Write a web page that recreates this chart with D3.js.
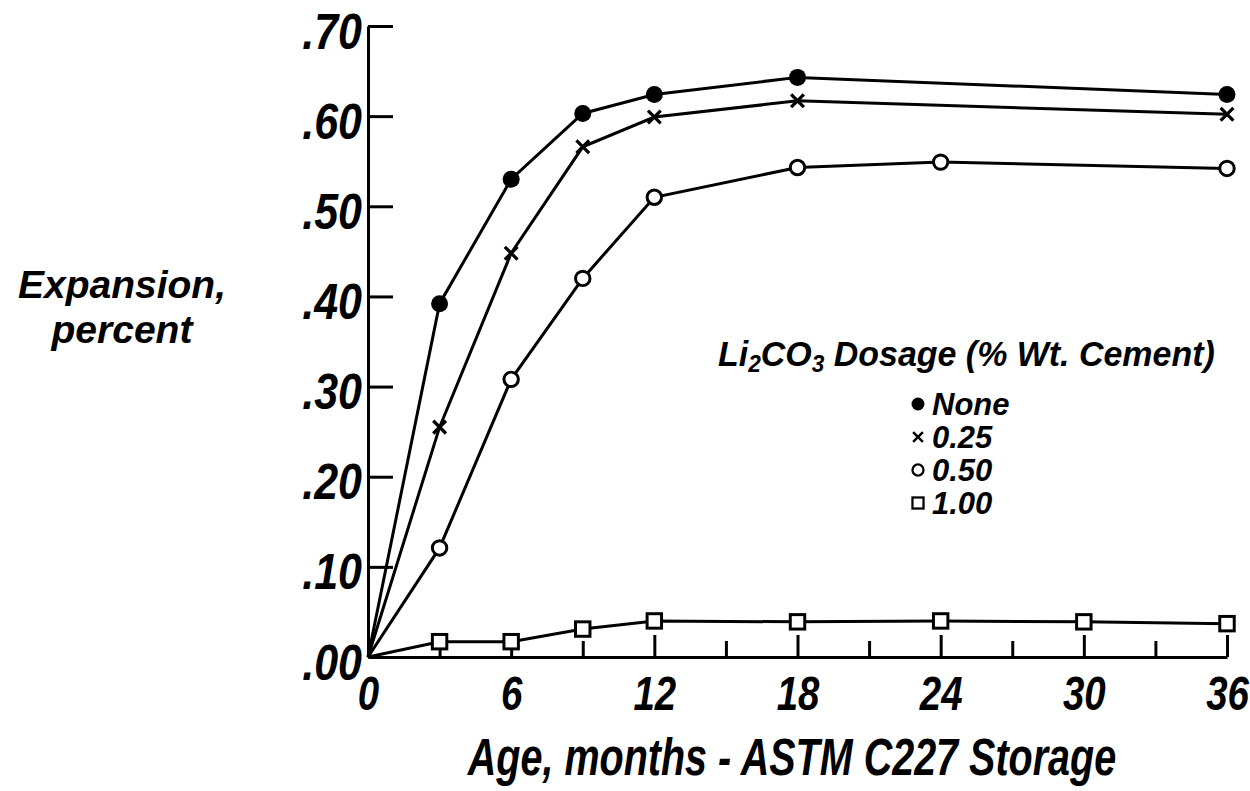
<!DOCTYPE html>
<html>
<head>
<meta charset="utf-8">
<script src="https://cdn.jsdelivr.net/npm/d3@7"></script>
<style>
  body { margin: 0; background: #fff; }
  text { font-family: "Liberation Sans", Arial, sans-serif; font-weight: bold; font-style: italic; fill: #000; }
</style>
</head>
<body>
<script>
//data
const seriesNames = ["None", "0.25", "0.50", "1.00"];
const seriesMarkers = ["dot", "cross", "circle", "square"];

const monthsNone = [0, 3, 6, 9, 12, 18, 36];
const valuesNone = [0, 0.392, 0.530, 0.603, 0.624, 0.643, 0.624];
const months025 = [0, 3, 6, 9, 12, 18, 36];
const values025 = [0, 0.255, 0.448, 0.566, 0.599, 0.617, 0.602];
const months050 = [0, 3, 6, 9, 12, 18, 24, 36];
const values050 = [0, 0.121, 0.308, 0.420, 0.510, 0.543, 0.549, 0.542];
const months100 = [0, 3, 6, 9, 12, 18, 24, 30, 36];
const values100 = [0, 0.017, 0.017, 0.031, 0.040, 0.039, 0.040, 0.039, 0.037];

const xMajorTicks = [0, 6, 12, 18, 24, 30, 36];
const xMinorTicks = [3, 9, 15, 21, 27, 33];
const yTicks = [0, 0.1, 0.2, 0.3, 0.4, 0.5, 0.6, 0.7];
const yTickLabels = [".00", ".10", ".20", ".30", ".40", ".50", ".60", ".70"];

const xTitle = "Age, months - ASTM C227 Storage";
const yTitle = ["Expansion,", "percent"];

//visual setup
const width = 1250;
const height = 791;
const condense = 0.8;

let svg = d3.select("body").append("svg")
  .attr("width", width)
  .attr("height", height);

const x = d3.scaleLinear().domain([0, 36]).range([368, 1227]);
const y = d3.scaleLinear().domain([0, 0.7]).range([657, 26]);

//build series list from the arrays
const allMonths = [monthsNone, months025, months050, months100];
const allValues = [valuesNone, values025, values050, values100];
let series = seriesNames.map((name, i) => ({
  name: name,
  marker: seriesMarkers[i],
  points: allMonths[i].map((m, j) => ({ month: m, value: allValues[i][j] }))
}));

//axes
let xAxisMajor = svg.append("g")
  .attr("transform", "translate(0," + y(0) + ")")
  .call(d3.axisBottom(x).tickValues(xMajorTicks).tickSize(-22).tickSizeOuter(0).tickFormat(d3.format("d")));
let xAxisMinor = svg.append("g")
  .attr("transform", "translate(0," + y(0) + ")")
  .call(d3.axisBottom(x).tickValues(xMinorTicks).tickSize(-16).tickSizeOuter(0).tickFormat(""));
xAxisMinor.select(".domain").remove();

xAxisMajor.selectAll("text")
  .attr("y", 53)
  .attr("dy", 0)
  .attr("transform", "scale(" + condense + ",1)")
  .style("font-size", "48px");

let yAxis = svg.append("g")
  .attr("transform", "translate(" + x(0) + ",0)")
  .call(d3.axisLeft(y).tickValues(yTicks).tickSize(-25).tickSizeOuter(0)
    .tickFormat((d, i) => yTickLabels[i]));
yAxis.selectAll(".tick").filter(d => d === 0).select("line").remove();
yAxis.selectAll("text")
  .attr("x", -7)
  .attr("dy", "0.44em")
  .attr("transform", "scale(0.86,1)")
  .style("font-size", "50px");

svg.selectAll(".domain, .tick line")
  .attr("stroke", "#000")
  .attr("stroke-width", 3);
svg.selectAll(".tick text").attr("fill", "#000");

//titles
svg.append("text")
  .attr("transform", "translate(792,775) scale(0.76,1)")
  .attr("text-anchor", "middle")
  .style("font-size", "52px")
  .text(xTitle);

svg.selectAll(".ytitle")
  .data(yTitle)
  .enter().append("text")
  .attr("class", "ytitle")
  .attr("x", 122)
  .attr("y", (d, i) => 298 + i * 45)
  .attr("text-anchor", "middle")
  .style("font-size", "39px")
  .text(d => d);

//lines
let lineGen = d3.line()
  .x(d => x(d.month))
  .y(d => y(d.value));

svg.append("g").selectAll("path")
  .data(series)
  .enter().append("path")
  .attr("d", d => lineGen(d.points))
  .attr("fill", "none")
  .attr("stroke", "#000")
  .attr("stroke-width", 3);

//markers
function drawMarker(g, type, size) {
  if (type === "dot") {
    g.append("circle").attr("r", size).attr("fill", "#000");
  } else if (type === "circle") {
    g.append("circle").attr("r", size * 0.85).attr("fill", "#fff")
      .attr("stroke", "#000").attr("stroke-width", size * 0.35);
  } else if (type === "square") {
    const s = size * 0.85;
    g.append("rect").attr("x", -s).attr("y", -s).attr("width", 2 * s).attr("height", 2 * s)
      .attr("fill", "#fff").attr("stroke", "#000").attr("stroke-width", size * 0.35);
  } else if (type === "cross") {
    const s = size * 0.75;
    g.append("path").attr("d", "M" + (-s) + "," + (-s) + "L" + s + "," + s + "M" + (-s) + "," + s + "L" + s + "," + (-s))
      .attr("stroke", "#000").attr("stroke-width", size * 0.38);
  }
}

series.forEach(s => {
  svg.append("g").selectAll("g")
    .data(s.points.filter(p => p.month > 0))
    .enter().append("g")
    .attr("transform", p => "translate(" + x(p.month) + "," + y(p.value) + ")")
    .each(function() { drawMarker(d3.select(this), s.marker, 8.5); });
});

//legend
let legend = svg.append("g");
let legendTitle = legend.append("text")
  .attr("x", 718)
  .attr("y", 366)
  .style("font-size", "36px");
legendTitle.append("tspan").text("Li");
legendTitle.append("tspan").attr("baseline-shift", "-25%").style("font-size", "24px").text("2");
legendTitle.append("tspan").text("CO");
legendTitle.append("tspan").attr("baseline-shift", "-25%").style("font-size", "24px").text("3");
legendTitle.append("tspan").text(" Dosage (% Wt. Cement)");
//squeeze the title to the width it has in the figure
const titleW = legendTitle.node().getComputedTextLength();
legendTitle.attr("transform", "translate(718,0) scale(" + (497 / titleW) + ",1) translate(-718,0)");

let rows = legend.selectAll(".row")
  .data(series)
  .enter().append("g")
  .attr("class", "row")
  .attr("transform", (d, i) => "translate(918," + (404 + i * 33) + ")");
rows.each(function(d) { drawMarker(d3.select(this), d.marker, 6.5); });
rows.append("text")
  .attr("x", 14)
  .attr("y", 11)
  .style("font-size", "31px")
  .text(d => d.name);
</script>
</body>
</html>
